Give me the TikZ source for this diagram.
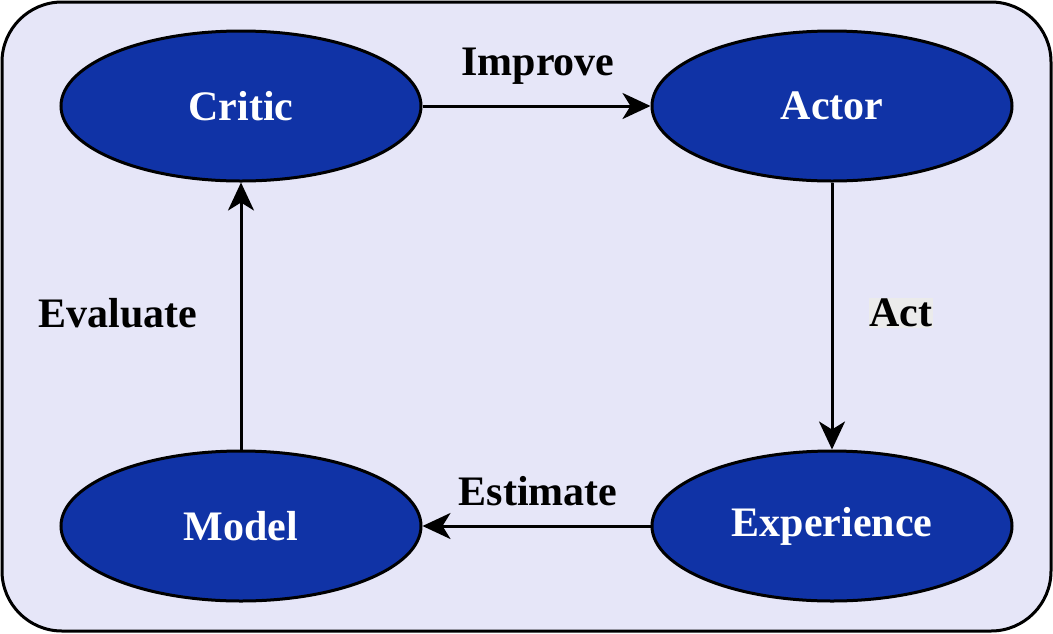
\documentclass[tikz,border=0pt]{standalone}
\usepackage{fontspec}
\setmainfont{Liberation Serif}
\usetikzlibrary{arrows.meta,shapes.geometric}
\definecolor{bgc}{HTML}{E6E6F8}
\definecolor{nodec}{HTML}{1033A6}
\definecolor{actbg}{HTML}{EBEBEB}
\tikzset{
  blob/.style={ellipse, draw=black, line width=3pt, fill=nodec, minimum width=360pt, minimum height=150pt, inner sep=0pt, text=white, font=\fontsize{42}{50}\selectfont\bfseries},
  lbl/.style={font=\fontsize{42}{50}\selectfont\bfseries, text=black, inner sep=1pt},
  conn/.style={line width=3pt, -{Stealth[length=28pt,width=26pt,inset=8pt]}}
}
\begin{document}
\begin{tikzpicture}[x=1pt,y=-1pt]
\useasboundingbox (0,0) rectangle (1053,633);
\draw[line width=3pt, fill=bgc, rounded corners=60pt] (2,2) rectangle (1051,631);
\node[blob] (critic) at (241,106) {Critic};
\node[blob] (actor) at (832,106) {Actor};
\node[blob] (model) at (241,526) {Model};
\node[blob] (exp) at (832,526) {Experience};
\draw[conn] (critic) -- (actor);
\draw[conn] (actor) -- (exp);
\draw[conn] (exp) -- (model);
\draw[conn] (model) -- (critic);
\node[lbl] (improve) at (538,66) {Improve};
\node[lbl] (evaluate) at (118,313) {Evaluate};
\node[lbl, fill=actbg, inner sep=1pt] (act) at (901,313) {Act};
\node[lbl] (estimate) at (538,491) {Estimate};
\end{tikzpicture}
\end{document}
